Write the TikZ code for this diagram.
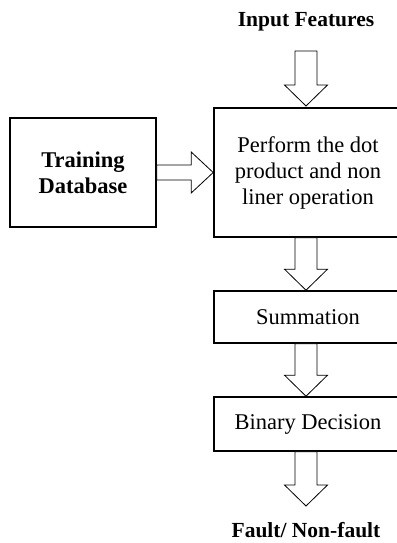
\documentclass[tikz,border=0pt]{standalone}
\usepackage{fontspec}
\setmainfont{Liberation Serif}
\usepackage{tikz}
\usetikzlibrary{calc}

\tikzset{
  block/.style={rectangle, draw=black, line width=1.6pt, align=center, inner sep=0pt,
    font=\fontsize{22.5}{26}\selectfont},
  label/.style={align=center, font=\fontsize{21.5}{26}\selectfont\bfseries},
  hollow/.style={draw=black, line width=0.8pt, fill=white, line join=miter}
}
% hollow block arrows between two named points
\newcommand{\blockdown}[2]{%
  \draw [hollow] let \p1=(#1), \p2=(#2) in
    (\x1-11pt,\y1) -- (\x1-11pt,\y2+21pt) -- (\x1-21.5pt,\y2+21pt) -- (\x1,\y2)
    -- (\x1+21.5pt,\y2+21pt) -- (\x1+11pt,\y2+21pt) -- (\x1+11pt,\y1) -- cycle;}
\newcommand{\blockright}[2]{%
  \draw [hollow] let \p1=(#1), \p2=(#2) in
    (\x1,\y1+7.5pt) -- (\x2-22pt,\y1+7.5pt) -- (\x2-22pt,\y1+20.5pt) -- (\x2,\y1)
    -- (\x2-22pt,\y1-20.5pt) -- (\x2-22pt,\y1-7.5pt) -- (\x1,\y1-7.5pt) -- cycle;}

\begin{document}
\begin{tikzpicture}[x=1pt, y=-1pt]
  \useasboundingbox (0,0) rectangle (396,543);
  \node (inputs) [label] at (306, 22) {Input Features};
  \node (training) [block, minimum width=146, minimum height=109] at (83, 172.5) {\bfseries Training\\\bfseries Database};
  \node (dotprod) [block, minimum width=188, minimum height=129] at (308, 172.5) {Perform the dot\\product and non\\liner operation};
  \node (summation) [block, minimum width=188, minimum height=52] at (308, 317) {Summation};
  \node (decision) [block, minimum width=188, minimum height=54] at (308, 424) {Binary Decision};
  \node (fault) [label] at (306, 530) {Fault/ Non-fault};
  \coordinate (instart) at (306, 51);
  \coordinate (intip) at (306, 106);
  \coordinate (faulttip) at (306, 506);
  \blockdown{instart}{intip}
  \blockright{training.east}{dotprod.west}
  \blockdown{$(dotprod.south)+(-2,0)$}{$(summation.north)+(-2,0)$}
  \blockdown{$(summation.south)+(-2,0)$}{$(decision.north)+(-2,0)$}
  \blockdown{$(decision.south)+(-2,0)$}{faulttip}
\end{tikzpicture}
\end{document}
